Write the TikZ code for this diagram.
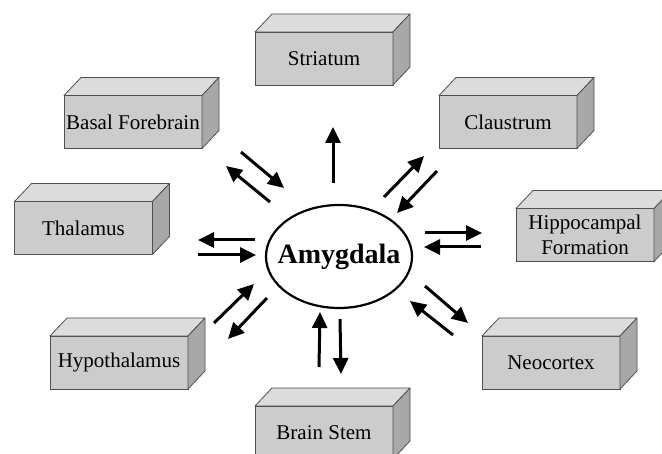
\documentclass[tikz,border=0pt]{standalone}
\usepackage{fontspec}
\setmainfont{Liberation Serif}
\usetikzlibrary{arrows.meta,shapes.geometric}
\definecolor{frontc}{HTML}{CCCCCC}
\definecolor{topc}{HTML}{DCDCDC}
\definecolor{sidec}{HTML}{A8A8A8}
\definecolor{edgec}{HTML}{505050}
\tikzset{
  boxfront/.style={draw=edgec, line width=0.8pt, fill=frontc, minimum width=138pt, minimum height=53pt,
    inner sep=0pt, outer sep=0pt, font=\fontsize{21}{25}\selectfont, align=center},
  boxface/.style={draw=edgec, line width=0.8pt, line join=round},
  centre/.style={ellipse, draw, line width=2.2pt, minimum width=146pt, minimum height=103pt,
    inner sep=0pt, font=\fontsize{28}{32}\selectfont\bfseries},
  flow/.style={line width=3pt, -{Triangle[length=16pt,width=15pt]}}
}
\newcommand\brainbox[4]{%
  \node[boxfront] (#1) at (#2,#3) {#4};
  \draw[boxface, fill=topc] (#1.north west) -- ++(17,-18) -- ([shift={(17,-18)}]#1.north east) -- (#1.north east) -- cycle;
  \draw[boxface, fill=sidec] (#1.north east) -- ++(17,-18) -- ([shift={(17,-18)}]#1.south east) -- (#1.south east) -- cycle;
}
\begin{document}
\begin{tikzpicture}[x=1pt,y=-1pt]
\useasboundingbox (0,0) rectangle (662,454);
\clip (0,0) rectangle (662,454);
\fill[white] (0,0) rectangle (662,454);
\brainbox{str}{324}{58.5}{Striatum}
\brainbox{bf}{133}{122}{Basal Forebrain}
\brainbox{cl}{508}{122}{Claustrum}
\brainbox{th}{83.5}{228}{Thalamus}
\brainbox{hf}{585}{235}{Hippocampal\\Formation}
\brainbox{hy}{119}{362.5}{Hypothalamus}
\brainbox{nc}{551}{362.5}{Neocortex}
\brainbox{bs}{324}{432.5}{Brain Stem}
\node[centre] (amy) at (339,256.5) {\makebox[0pt]{Amygdala}};
% arrow end points
\coordinate (s1) at (333,183); \coordinate (s2) at (333,127);
\coordinate (bfa1) at (241,152); \coordinate (bfa2) at (284,188);
\coordinate (bfb1) at (270,202); \coordinate (bfb2) at (226,166);
\coordinate (cla1) at (384,197); \coordinate (cla2) at (424,156);
\coordinate (clb1) at (437,171); \coordinate (clb2) at (397,213);
\coordinate (tha1) at (255,240); \coordinate (tha2) at (198,240);
\coordinate (thb1) at (198,255); \coordinate (thb2) at (256,255);
\coordinate (hfa1) at (425,233); \coordinate (hfa2) at (482,233);
\coordinate (hfb1) at (481,247); \coordinate (hfb2) at (424,247);
\coordinate (hya1) at (214,323); \coordinate (hya2) at (254,284);
\coordinate (hyb1) at (267,298); \coordinate (hyb2) at (228,339);
\coordinate (bsa1) at (319,367); \coordinate (bsa2) at (320,312);
\coordinate (bsb1) at (340,319); \coordinate (bsb2) at (341,374);
\coordinate (nca1) at (425,286); \coordinate (nca2) at (468,323);
\coordinate (ncb1) at (453,335); \coordinate (ncb2) at (410,301);
\draw[flow] (s1) -- (s2);
\draw[flow] (bfa1) -- (bfa2);
\draw[flow] (bfb1) -- (bfb2);
\draw[flow] (cla1) -- (cla2);
\draw[flow] (clb1) -- (clb2);
\draw[flow] (tha1) -- (tha2);
\draw[flow] (thb1) -- (thb2);
\draw[flow] (hfa1) -- (hfa2);
\draw[flow] (hfb1) -- (hfb2);
\draw[flow] (hya1) -- (hya2);
\draw[flow] (hyb1) -- (hyb2);
\draw[flow] (bsa1) -- (bsa2);
\draw[flow] (bsb1) -- (bsb2);
\draw[flow] (nca1) -- (nca2);
\draw[flow] (ncb1) -- (ncb2);
\end{tikzpicture}
\end{document}
